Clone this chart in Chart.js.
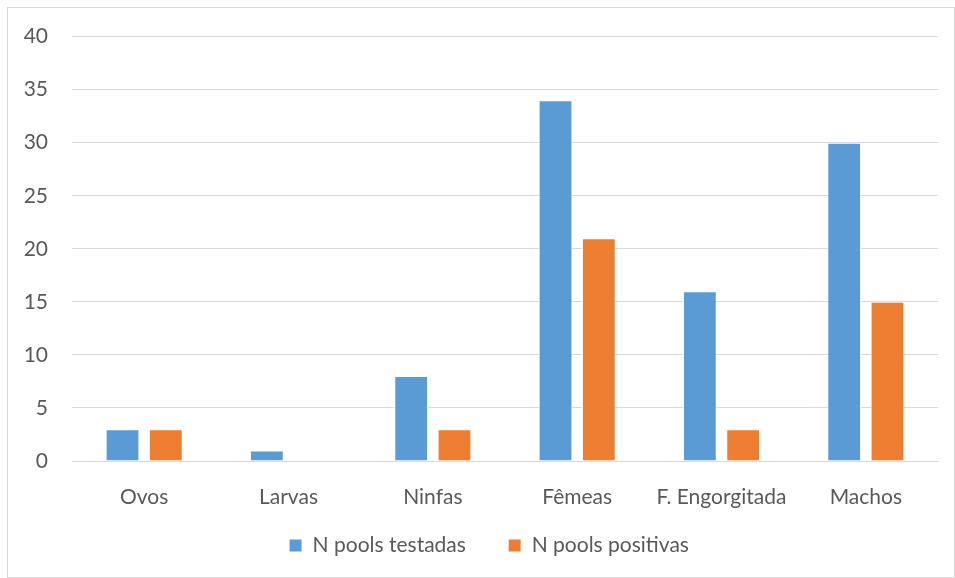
<!DOCTYPE html>
<html lang="pt">
<head>
  <meta charset="UTF-8">
  <title>Pools</title>
  <script src="https://cdn.jsdelivr.net/npm/chart.js@4.4.1/dist/chart.umd.min.js"></script>
  <style>
    body { margin: 0; background: #fff; }
    #wrap { width: 955px; height: 578px; }
  </style>
</head>
<body>
  <div id="wrap"><canvas id="myChart" width="955" height="578"></canvas></div>
  <script>
    const categories = ['Ovos', 'Larvas', 'Ninfas', 'Fêmeas', 'F. Engorgitada', 'Machos'];
    const testadas = [3, 1, 8, 34, 16, 30];
    const positivas = [3, 0, 3, 21, 3, 15];
    const yTicks = [0, 5, 10, 15, 20, 25, 30, 35, 40];

    // grey outline round the whole chart, and nudge the legend a bit
    const frame = {
      id: 'frame',
      afterLayout(chart) {
        chart.legend.left += 40;
        chart.legend.top -= 2;
        chart.legend.bottom -= 2;
      },
      beforeDraw(chart) {
        const c = chart.ctx;
        c.save();
        c.fillStyle = '#fff';
        c.fillRect(0, 0, chart.width, chart.height);
        c.strokeStyle = '#d9d9d9';
        c.lineWidth = 1;
        c.strokeRect(7.5, 7.5, chart.width - 8, chart.height - 8);
        c.restore();
      }
    };

    const txt = '#595959';
    const font = { family: 'Lato', size: 21 };
    const ctx = document.getElementById('myChart').getContext('2d');
    new Chart(ctx, {
      type: 'bar',
      data: {
        labels: categories,
        datasets: [{
          label: 'N pools testadas',
          data: testadas,
          backgroundColor: '#5b9bd5',
          borderColor: '#fff',
          borderWidth: 1
        }, {
          label: 'N pools positivas',
          data: positivas,
          backgroundColor: '#ed7d31',
          borderColor: '#fff',
          borderWidth: 1
        }]
      },
      options: {
        responsive: false,
        animation: false,
        layout: { padding: { left: 0, right: 17, top: 36, bottom: 10 } },
        datasets: { bar: { categoryPercentage: 0.6, barPercentage: 0.78 } },
        plugins: {
          tooltip: { enabled: false },
          legend: {
            position: 'bottom',
            labels: {
              color: txt,
              font: font,
              boxWidth: 13, boxHeight: 13, padding: 10,
              generateLabels(chart) {
                const items = Chart.defaults.plugins.legend.labels.generateLabels(chart);
                items[0].text += '      ';
                return items;
              }
            }
          }
        },
        scales: {
          x: {
            grid: { display: false },
            border: { color: '#d9d9d9' },
            ticks: { color: txt, font: font, padding: 16 },
            afterFit(s) { s.height = 66; }
          },
          y: {
            min: 0, max: 40,
            afterBuildTicks(s) { s.ticks = yTicks.map(v => ({ value: v })); },
            grid: { color: '#d9d9d9', drawTicks: false },
            border: { display: false },
            ticks: { color: txt, font: font, padding: 24 },
            afterFit(s) { s.width = 72; }
          }
        }
      },
      plugins: [frame]
    });
  </script>
</body>
</html>
